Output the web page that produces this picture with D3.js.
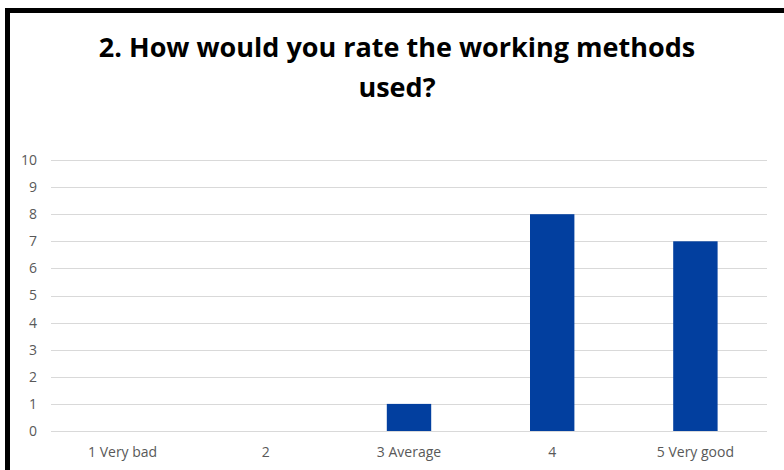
<!DOCTYPE html>
<html>
<head>
<meta charset="utf-8">
<script src="https://cdn.jsdelivr.net/npm/d3@7"></script>
<style>
  body { margin: 0; background: #fff; }
  svg text { font-family: "Open Sans", "Liberation Sans", sans-serif; }
</style>
</head>
<body>
<svg id="chart" width="784" height="470"></svg>
<script>
// chart data
const categories = ["1 Very bad", "2", "3 Average", "4", "5 Very good"];
const counts = [0, 0, 1, 8, 7];
const yTicks = [0, 1, 2, 3, 4, 5, 6, 7, 8, 9, 10];
const titleLines = ["2. How would you rate the working methods", "used?"];

const svg = d3.select("#chart");
const margin = {top: 160, right: 17, bottom: 39, left: 51};
const width = 784 - margin.left - margin.right;
const height = 470 - margin.top - margin.bottom;

// outer frame, only left and top edges are visible in the window
svg.append("rect")
    .attr("x", 7.5)
    .attr("y", 10.5)
    .attr("width", 800)
    .attr("height", 500)
    .attr("fill", "none")
    .attr("stroke", "#000")
    .attr("stroke-width", 5);

svg.selectAll(".title")
    .data(titleLines)
    .enter().append("text")
    .attr("class", "title")
    .attr("x", 397)
    .attr("y", (d, i) => 57 + i * 40)
    .attr("text-anchor", "middle")
    .style("font-size", "27px")
    .style("font-weight", "bold")
    .style("fill", "#000")
    .text(d => d);

const x = d3.scaleBand().domain(categories).range([0, width]).paddingInner(0.69).paddingOuter(0.345);
const y = d3.scaleLinear().domain([0, 10]).range([height, 0]);

const g = svg.append("g")
    .attr("transform", "translate(" + margin.left + "," + margin.top + ")");

// gridlines
g.selectAll(".grid")
    .data(yTicks)
    .enter().append("line")
    .attr("class", "grid")
    .attr("x1", 0)
    .attr("x2", width)
    .attr("y1", d => Math.round(y(d)) + 0.5)
    .attr("y2", d => Math.round(y(d)) + 0.5)
    .attr("stroke", "#d9d9d9")
    .attr("stroke-width", 1);

const yAxis = g.append("g")
    .call(d3.axisLeft(y).tickValues(yTicks).tickSize(0).tickPadding(14));
yAxis.select(".domain").remove();
yAxis.selectAll("text")
    .style("font-size", "14px")
    .style("fill", "#595959");

const xAxis = g.append("g")
    .attr("transform", "translate(0," + height + ")")
    .call(d3.axisBottom(x).tickSize(0).tickPadding(16));
xAxis.select(".domain").remove();
xAxis.selectAll("text")
    .style("font-size", "14px")
    .style("fill", "#595959");

g.selectAll(".bar")
    .data(counts)
    .enter().append("rect")
    .attr("class", "bar")
    .attr("x", (d, i) => x(categories[i]))
    .attr("y", d => y(d))
    .attr("width", x.bandwidth())
    .attr("height", d => height - y(d))
    .attr("fill", "#023f9f");
</script>
</body>
</html>
